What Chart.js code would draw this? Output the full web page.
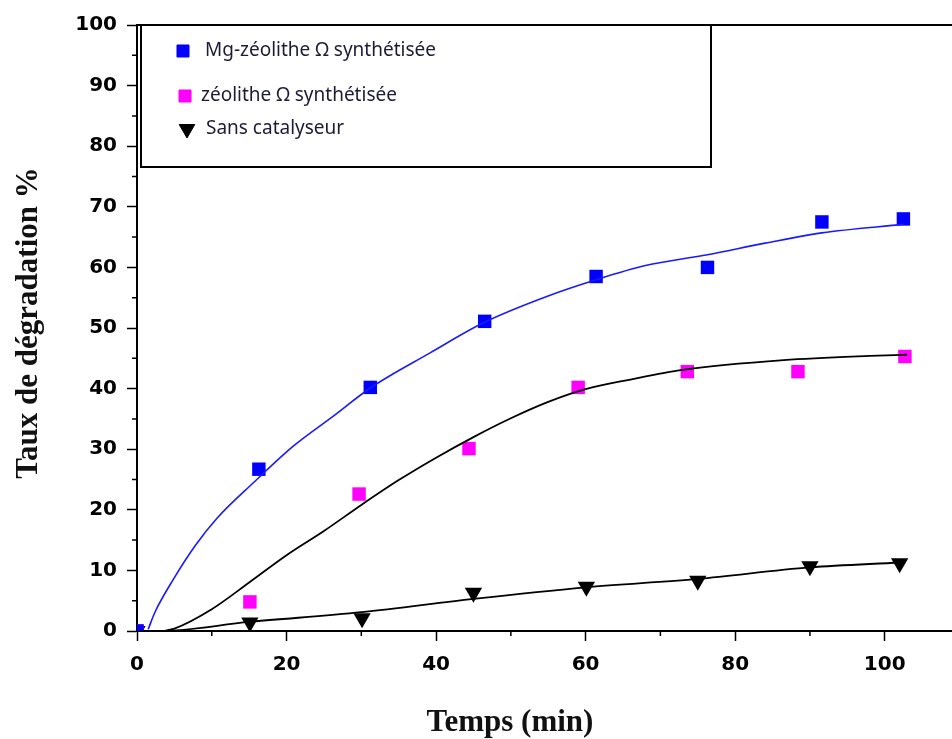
<!DOCTYPE html>
<html>
<head>
<meta charset="utf-8">
<script src="https://cdn.jsdelivr.net/npm/chart.js@4.4.1/dist/chart.umd.min.js"></script>
<style>
  html, body { margin: 0; padding: 0; background: #fff; }
</style>
</head>
<body>
<canvas id="chart" width="952" height="739"></canvas>
<script>
// Measured points (time in min, degradation %)
const mgTime = [0, 16.3, 31.2, 46.5, 61.4, 76.3, 91.6, 102.5];
const mgRate = [0, 26.7, 40.2, 51.1, 58.5, 60.0, 67.5, 68.0];

const zeoTime = [0, 15.1, 29.7, 44.4, 59.0, 73.6, 88.4, 102.7];
const zeoRate = [0, 4.8, 22.6, 30.1, 40.2, 42.8, 42.8, 45.3];

const blankTime = [0, 15.1, 30.1, 45.0, 60.1, 75.0, 90.0, 102.0];
const blankRate = [0, 1.4, 2.1, 6.3, 7.3, 8.3, 10.7, 11.2];

// Fitted curves
const mgFitX = [1.5, 2.4, 4.9, 7.8, 10.7, 15.6, 20.9, 26.3, 31.2, 39.2, 46.4, 54.8, 61.5, 68, 76.3, 84, 91.6, 102.5];
const mgFitY = [0.3, 3.1, 8.6, 14.1, 18.6, 24.5, 30.5, 35.5, 40.1, 45.9, 50.9, 55.2, 58.0, 60.3, 62.1, 64.0, 65.7, 67.1];

const zeoFitX = [3.5, 5, 10, 15, 20, 25, 30, 35, 40, 45, 50, 55, 60, 66, 73, 86.5, 98, 103];
const zeoFitY = [0, 0.4, 3.6, 8.0, 12.5, 16.5, 20.8, 24.9, 28.6, 32.0, 35.1, 37.8, 39.9, 41.5, 43.1, 44.7, 45.4, 45.6];

const blankFitX = [0.5, 3, 15, 30, 45, 60, 75, 90, 102];
const blankFitY = [0, 0, 1.5, 3.1, 5.3, 7.2, 8.6, 10.5, 11.3];

const seriesNames = ['Mg-zéolithe Ω synthétisée', 'zéolithe Ω synthétisée', 'Sans catalyseur'];
const xTicks = [0, 20, 40, 60, 80, 100];
const yTicks = [0, 10, 20, 30, 40, 50, 60, 70, 80, 90, 100];
const xMinor = [10, 30, 50, 70, 90];
const yMinor = [5, 15, 25, 35, 45, 55, 65, 75, 85, 95];

const pts = (xs, ys) => xs.map((x, i) => ({x: x, y: ys[i]}));

// axis frame, minor ticks, legend box and titles
const frame = {
  id: 'frame',
  afterDraw(chart) {
    const {ctx, chartArea: a, scales: {x, y}} = chart;
    ctx.save();
    ctx.strokeStyle = '#000';
    ctx.lineWidth = 2;
    ctx.beginPath();
    ctx.moveTo(a.left, a.top);
    ctx.lineTo(a.right, a.top);
    ctx.stroke();

    ctx.lineWidth = 1.5;
    ctx.beginPath();
    yMinor.forEach(v => {
      const py = y.getPixelForValue(v);
      ctx.moveTo(a.left - 5, py);
      ctx.lineTo(a.left, py);
    });
    xMinor.forEach(v => {
      const px = x.getPixelForValue(v);
      ctx.moveTo(px, a.bottom);
      ctx.lineTo(px, a.bottom + 5);
    });
    ctx.stroke();

    // legend box
    ctx.lineWidth = 2;
    ctx.strokeRect(a.left + 4, a.top, 570, 142);

    const rows = [
      {ds: 0, mx: 183, ty: 51, tx: 205},
      {ds: 1, mx: 185, ty: 96, tx: 201},
      {ds: 2, mx: 187, ty: 129, tx: 206}
    ];
    ctx.font = '19px "Noto Sans"';
    ctx.textBaseline = 'middle';
    ctx.textAlign = 'left';
    rows.forEach(r => {
      const d = chart.data.datasets[r.ds];
      ctx.fillStyle = d.pointBackgroundColor;
      ctx.strokeStyle = d.pointBorderColor;
      ctx.lineWidth = 1;
      Chart.helpers.drawPoint(ctx, {
        pointStyle: d.pointStyle, rotation: d.rotation || 0,
        radius: r.ds === 2 ? 9 : 8.5, borderWidth: 1
      }, r.mx, r.ty);
      ctx.fillStyle = '#1c1c34';
      ctx.fillText(seriesNames[r.ds], r.tx, r.ty);
    });

    // axis titles
    ctx.fillStyle = '#111';
    ctx.font = 'bold 31px "Liberation Serif"';
    ctx.textAlign = 'center';
    ctx.textBaseline = 'alphabetic';
    ctx.fillText('Temps (min)', 510, 731);
    ctx.translate(37, 323);
    ctx.rotate(-Math.PI / 2);
    ctx.fillText('Taux de dégradation %', 0, 0);
    ctx.restore();
  }
};

new Chart(document.getElementById('chart'), {
  type: 'scatter',
  data: {
    datasets: [
      {
        label: seriesNames[0], data: pts(mgTime, mgRate), order: 2,
        pointStyle: 'rect', pointRadius: 9.5, pointHoverRadius: 9.5,
        pointBackgroundColor: '#0000ff', pointBorderColor: '#0000ff', pointBorderWidth: 0
      },
      {
        label: seriesNames[1], data: pts(zeoTime, zeoRate), order: 2,
        pointStyle: 'rect', pointRadius: 9.5, pointHoverRadius: 9.5,
        pointBackgroundColor: '#ff00ff', pointBorderColor: '#ff00ff', pointBorderWidth: 0
      },
      {
        label: seriesNames[2], data: pts(blankTime, blankRate), order: 2,
        pointStyle: 'triangle', rotation: 180, pointRadius: 10, pointHoverRadius: 10,
        pointBackgroundColor: '#000', pointBorderColor: '#000', pointBorderWidth: 0
      },
      {
        data: pts(mgFitX, mgFitY), showLine: true, pointRadius: 0, order: 1,
        borderColor: '#1a1aff', borderWidth: 1.6, cubicInterpolationMode: 'monotone'
      },
      {
        data: pts(zeoFitX, zeoFitY), showLine: true, pointRadius: 0, order: 1,
        borderColor: '#000', borderWidth: 1.8, cubicInterpolationMode: 'monotone'
      },
      {
        data: pts(blankFitX, blankFitY), showLine: true, pointRadius: 0, order: 1,
        borderColor: '#000', borderWidth: 1.8, cubicInterpolationMode: 'monotone'
      }
    ]
  },
  options: {
    responsive: false,
    animation: false,
    layout: { autoPadding: false, padding: { top: 25, left: 0, right: 0, bottom: 0 } },
    plugins: { legend: { display: false }, tooltip: { enabled: false } },
    scales: {
      x: {
        min: 0, max: 109,
        afterFit: s => { s.height = 108; s.paddingLeft = 0; s.paddingRight = 0; },
        afterBuildTicks: s => { s.ticks = xTicks.map(v => ({value: v})); },
        border: { color: '#000', width: 2 },
        grid: { drawOnChartArea: false, tickLength: 10, tickWidth: 1.5, tickColor: '#000' },
        ticks: { color: '#000', padding: 12, font: { family: 'DejaVu Sans', weight: 'bold', size: 20 } }
      },
      y: {
        min: 0, max: 100,
        afterFit: s => { s.width = 137; s.paddingTop = 0; s.paddingBottom = 0; },
        afterBuildTicks: s => { s.ticks = yTicks.map(v => ({value: v})); },
        border: { color: '#000', width: 2 },
        grid: { drawOnChartArea: false, tickLength: 10, tickWidth: 1.5, tickColor: '#000' },
        ticks: { color: '#000', padding: 10, font: { family: 'DejaVu Sans', weight: 'bold', size: 20 } }
      }
    }
  },
  plugins: [frame]
});
</script>
</body>
</html>
